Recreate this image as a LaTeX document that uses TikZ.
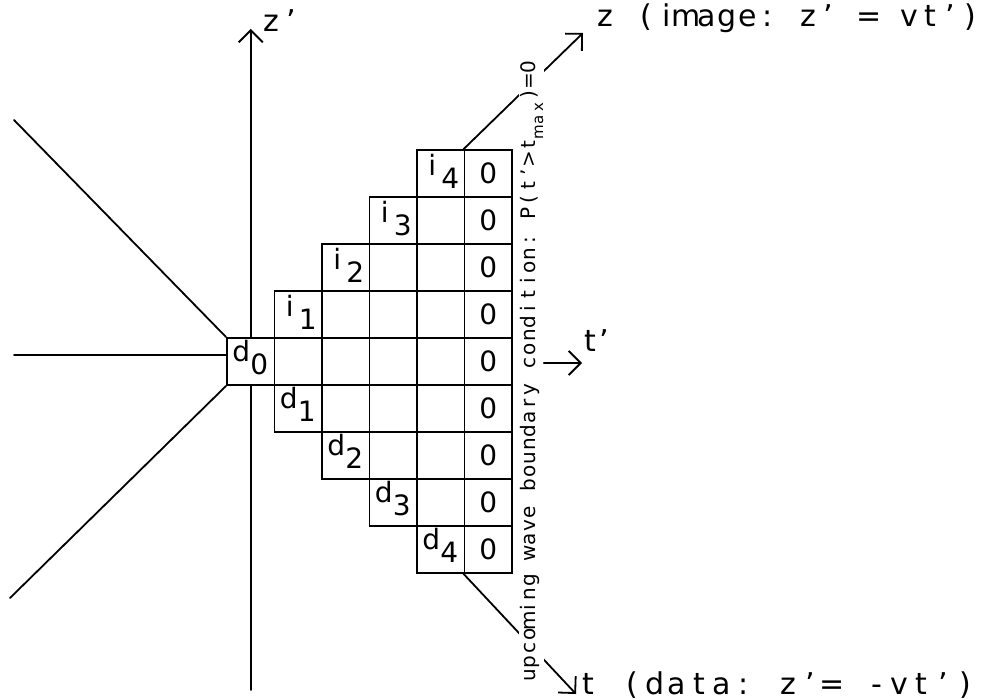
\documentclass[tikz,border=0pt]{standalone}
\usepackage{fontspec}
\setmainfont{DejaVu Sans}
\usetikzlibrary{arrows.meta,calc}
\ExplSyntaxOn
\NewDocumentCommand\pitched{mm}{\str_map_inline:nn{#2}{\makebox[#1][c]{##1}}}
\ExplSyntaxOff
\newcommand\celllab[2]{\makebox[18pt][c]{#1}\raisebox{-13pt}{#2}}
\tikzset{
 ln/.style={line width=1.8pt,line cap=round,line join=round},
 ax/.style={ln,-{Straight Barb[length=12pt,width=24pt]}},
 cellbox/.style={draw,line width=1.8pt,minimum width=47.5pt,minimum height=47pt,inner sep=0pt},
 celltxt/.style={font=\fontsize{28pt}{28pt}\selectfont,inner sep=0pt},
 labtxt/.style={font=\fontsize{30pt}{30pt}\selectfont,inner sep=0pt,anchor=base west},
}
\begin{document}
\begin{tikzpicture}[x=1pt,y=-1pt]
\useasboundingbox (0,0) rectangle (996,700);
% grid of cells
\foreach \r in {0,...,8}{
  \pgfmathtruncatemacro\cs{abs(\r-4)}
  \foreach \c in {\cs,...,5}{
    \node[cellbox] (c-\r-\c) at ({227+47.5*(\c+0.5)},{150+47*(\r+0.5)}) {};
  }
  \node[celltxt] (zero-\r) at (c-\r-5) {0};
}
% image labels
\foreach \k/\r in {1/3,2/2,3/1,4/0}
  \node[celltxt,anchor=base west] (i\k) at ($(c-\r-\k.north west)+(7,26)$) {\celllab{i}{\k}};
% data labels
\foreach \k/\r in {0/4,1/5,2/6,3/7,4/8}
  \node[celltxt,anchor=base west] (d\k) at ($(c-\r-\k.north west)+(6,24)$) {\celllab{d}{\k}};
% z' axis
\coordinate (zptip) at (250.75,29);
\coordinate (zpbot) at (250.75,690);
\draw[ax] (c-4-0.north) -- (zptip);
\draw[ln] (c-4-0.south) -- (zpbot);
\node[labtxt] (zplab) at (261,32) {\pitched{20.3pt}{z'}};
% left rays
\coordinate (L1) at (14,120);
\coordinate (L2) at (14,355);
\coordinate (L3) at (10,598);
\draw[ln] (c-4-0.north west) -- (L1);
\draw[ln] (c-4-0.west |- L2) -- (L2);
\draw[ln] (c-4-0.south west) -- (L3);
% z axis (image)
\coordinate (ztip) at (583,33);
\draw[ax] (c-0-5.north west) -- (ztip);
\node[labtxt] (zlab) at (595,27) {\pitched{20.3pt}{z (image: z' = vt')}};
% t axis (data)
\coordinate (ttip) at (576,694);
\draw[ax] (c-8-5.south west) -- (ttip);
\node[labtxt] (tlab) at (577,694) {\pitched{22.2pt}{t (data: z'= -vt')}};
% boundary condition text
\node[rotate=90,anchor=base west,inner sep=0.5pt,fill=white,font=\fontsize{20pt}{20pt}\selectfont] (bc) at (535,683)
 {\pitched{13.6pt}{upcoming wave boundary condition: P(t'>t}\raisebox{-8pt}{\fontsize{15pt}{15pt}\selectfont\pitched{12.3pt}{max}}\pitched{13.6pt}{)=0}};
% t' axis
\coordinate (tptip) at (582,363);
\draw[ax] (bc.south |- tptip) -- (tptip);
\node[labtxt] (tplab) at (583,352) {\pitched{14pt}{t'}};
\end{tikzpicture}
\end{document}
